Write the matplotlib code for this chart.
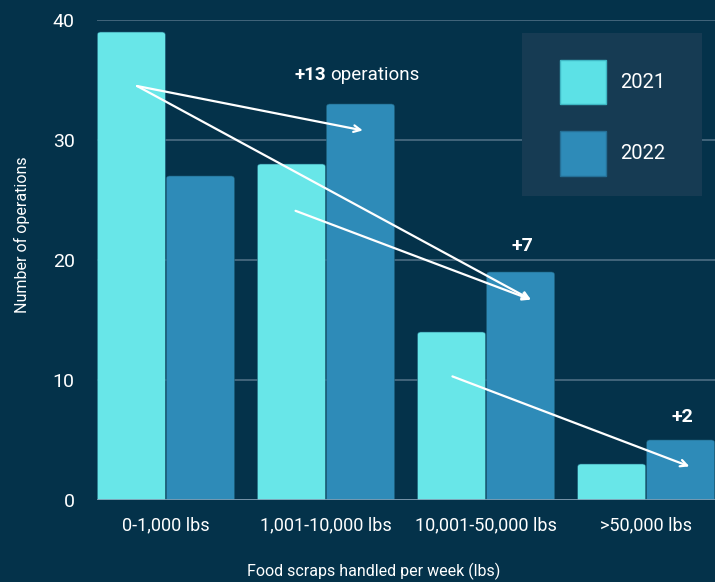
import matplotlib.pyplot as plt
from matplotlib.patches import FancyBboxPatch, Patch, Rectangle
import numpy as np

# --- Datos ---
categories = ["0-1,000 lbs", "1,001-10,000 lbs", "10,001-50,000 lbs", ">50,000 lbs"]
ops_2021 = [39, 28, 14, 3]
ops_2022 = [27, 33, 19, 5]
years = ["2021", "2022"]

# flechas (desde, hasta) en coordenadas de datos
arrows = [
    ((-0.18, 34.5), (1.23, 30.8)),
    ((-0.18, 34.5), (2.28, 16.7)),
    ((0.81, 24.1), (2.28, 16.7)),
    ((1.79, 10.3), (3.27, 2.8)),
]

# --- Estilo ---
BG = "#04324a"
C21 = "#68e6e8"
C22 = "#2e8bb8"
GRID = "#4d6d83"
plt.rcParams['font.family'] = ['Liberation Sans Narrow', 'Roboto', 'DejaVu Sans']

fig = plt.figure(figsize=(7.15, 5.82), dpi=100, facecolor=BG)
ax = fig.add_axes([0.1357, 0.1409, 0.8643, 0.8247])
ax.set_facecolor(BG)

x = np.arange(len(categories))
w = 0.425
off = 0.2156
aspect = 160 / 12  # px por unidad x / px por unidad y


def rounded_bar(xc, h, color):
    p = FancyBboxPatch((xc - w / 2, -1), w, h + 1,
                       boxstyle="round,pad=0,rounding_size=0.02",
                       mutation_aspect=aspect, facecolor=color,
                       edgecolor="#1d5f7a", linewidth=0.4, zorder=3)
    ax.add_patch(p)


for xi, v1, v2 in zip(x, ops_2021, ops_2022):
    rounded_bar(xi - off, v1, C21)
    rounded_bar(xi + off, v2, C22)

ax.set_xlim(-0.43, 3.43)
ax.set_ylim(0, 40)
ax.set_yticks([0, 10, 20, 30, 40])
ax.set_xticks(x)
ax.set_xticklabels(categories)
ax.tick_params(length=0, colors="white", labelsize=13)
ax.tick_params(axis='y', pad=16, labelsize=14)
ax.tick_params(axis='x', pad=12)
for s in ax.spines.values():
    s.set_visible(False)
ax.grid(axis='y', color=GRID, linewidth=1.2, zorder=0)
ax.set_axisbelow(True)
ax.axhline(0, color="#7f9bb0", linewidth=1.2, zorder=4)

ax.set_xlabel("Food scraps handled per week (lbs)", color="white", fontsize=11.5, labelpad=20)
ax.xaxis.set_label_coords(0.448, -0.13)
ax.set_ylabel("Number of operations", color="white", fontsize=11.5)
ax.yaxis.set_label_coords(-0.108, 0.552)

# --- Flechas ---
for (x0, y0), (x1, y1) in arrows:
    ax.annotate("", xy=(x1, y1), xytext=(x0, y0),
                arrowprops=dict(arrowstyle="->", color="white", lw=1.6,
                                mutation_scale=12, shrinkA=0, shrinkB=0),
                zorder=5)

# --- Anotaciones ---
ax.text(1.0, 35.4, "+13", color="white", fontsize=13.5, fontweight="bold",
        ha="right", va="center", zorder=6)
ax.text(1.025, 35.4, "operations", color="white", fontsize=13.5,
        ha="left", va="center", zorder=6)
ax.text(2.225, 21.2, "+7", color="white", fontsize=14, fontweight="bold",
        ha="center", va="center", zorder=6)
ax.text(3.225, 6.9, "+2", color="white", fontsize=14, fontweight="bold",
        ha="center", va="center", zorder=6)

# --- Leyenda (caja dibujada aparte) ---
fig.patches.append(Rectangle((522 / 715, 1 - 196 / 582), 180 / 715, 163 / 582,
                             transform=fig.transFigure, facecolor="#163b53",
                             edgecolor="none", zorder=6))
handles = [Patch(facecolor="#5ce1e6", edgecolor="#3fb8c4", label=years[0]),
           Patch(facecolor=C22, edgecolor="#256f96", label=years[1])]
leg = fig.legend(handles=handles, loc="upper left",
                 bbox_to_anchor=(560 / 715, 1 - 60 / 582),
                 frameon=False, fontsize=14.5, handlelength=2.3, handleheight=3.0,
                 labelspacing=1.35, borderpad=0, handletextpad=0.7,
                 borderaxespad=0)
for t in leg.get_texts():
    t.set_color("white")
leg.set_zorder(7)

plt.savefig("out.png", dpi=100, facecolor=BG)
